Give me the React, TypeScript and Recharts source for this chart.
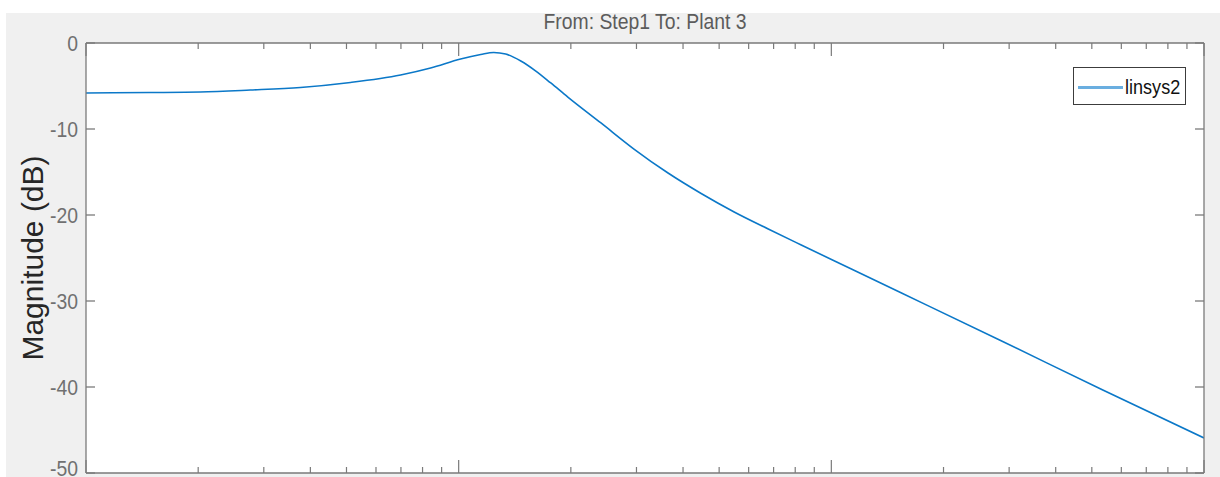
import React from "react";
import { LineChart, Line, XAxis, YAxis, CartesianGrid, Legend } from "recharts";

// bode magnitude (rad/s, dB)
const freqs = [1, 1.486, 2.025, 2.759, 3.761, 5.125, 6.985, 8.407, 10.12, 11.46, 12.42, 13.37, 14.68, 16.11, 17.67, 19.63, 24.09, 29.54, 36.46, 44.74, 54.86, 67.72, 83.04, 113.2, 154.3, 286.4, 531.7, 1000];
const magnitudes = [-5.81, -5.76, -5.7, -5.47, -5.17, -4.59, -3.72, -2.91, -1.86, -1.34, -1.1, -1.28, -2.09, -3.26, -4.65, -6.28, -9.3, -12.33, -15.12, -17.5, -19.65, -21.63, -23.49, -26.28, -29.07, -34.65, -40.29, -45.93];

const majorTicks = [1, 10, 100, 1000];
const freqTicks = [1, 2, 3, 4, 5, 6, 7, 8, 9, 10, 20, 30, 40, 50, 60, 70, 80, 90, 100, 200, 300, 400, 500, 600, 700, 800, 900, 1000];
const magTicks = [0, -10, -20, -30, -40, -50];

const seriesName = "linsys2";
const title = "From: Step1  To: Plant 3";
const yTitle = "Magnitude (dB)";

const chartData = freqs.map((f, i) => ({ freq: f, mag: magnitudes[i] }));

const AXIS = "#7a7a7a";
const FONT = "'Liberation Sans', Arial, sans-serif";
const PLOT_TOP = 43;
const PLOT_BOTTOM = 473;

// inward log ticks, long on decades
function FreqTick(props: any) {
  const { x, payload, dir, edge } = props;
  const len = majorTicks.includes(payload.value) ? 13 : 6;
  return <line x1={x} x2={x} y1={edge} y2={edge + dir * len} stroke={AXIS} strokeWidth={1.2} />;
}

function MagTick(props: any) {
  const { x, y, payload } = props;
  return (
    <text
      x={x}
      y={y}
      textAnchor="end"
      dominantBaseline="central"
      fontSize={22}
      fontFamily={FONT}
      fill="#707070"
      transform={`translate(${x},${y}) scale(0.88,1) translate(${-x},${-y})`}
    >
      {payload.value}
    </text>
  );
}

function LegendBox() {
  return (
    <div style={{ width: 113, height: 38, boxSizing: "border-box", border: "1.5px solid #3c3c3c", background: "#fff", position: "relative" }}>
      <div style={{ position: "absolute", left: 4, top: 18, width: 45, height: 3, background: "#6aaee0" }} />
      <div style={{ position: "absolute", left: 51, top: 8, fontSize: 21, lineHeight: "21px", fontFamily: FONT, color: "#111", transform: "scaleX(0.86)", transformOrigin: "left center" }}>
        {seriesName}
      </div>
    </div>
  );
}

const blank = () => "";

export default function App() {
  return (
    <div style={{ position: "absolute", left: 0, top: 0, width: 1220, height: 477, background: "#fff", overflow: "hidden" }}>
      <div style={{ position: "absolute", left: 6, top: 13, width: 1214, height: 464, background: "#f0f0f0" }} />
      <div
        style={{
          position: "absolute", left: 645, top: 11, fontSize: 22, lineHeight: "22px", fontFamily: FONT,
          color: "#5c5c5c", whiteSpace: "nowrap", transform: "translateX(-50%) scaleX(0.88)",
        }}
      >
        {title}
      </div>
      <div style={{ position: "absolute", left: 0, top: 0, width: 1220, height: 13, background: "#fff" }} />
      <div
        style={{
          position: "absolute", left: 33, top: 258, fontSize: 30, lineHeight: "30px", fontFamily: FONT,
          color: "#262626", whiteSpace: "nowrap", transform: "translate(-50%,-50%) rotate(-90deg)",
        }}
      >
        {yTitle}
      </div>
      <div style={{ position: "absolute", left: 0, top: 0 }}>
        <LineChart width={1220} height={477} data={chartData} margin={{ top: PLOT_TOP, right: 16, bottom: 477 - PLOT_BOTTOM, left: 85 }}>
          <CartesianGrid horizontal={false} vertical={false} fill="#fff" />
          <XAxis xAxisId="b" dataKey="freq" type="number" scale="log" domain={[1, 1000]} allowDataOverflow
            orientation="bottom" mirror ticks={freqTicks} interval={0} tickSize={0} tickMargin={0} tickLine={false}
            tick={<FreqTick dir={-1} edge={PLOT_BOTTOM} />} stroke={AXIS} strokeWidth={1.3} />
          <XAxis xAxisId="t" dataKey="freq" type="number" scale="log" domain={[1, 1000]} allowDataOverflow
            orientation="top" mirror ticks={freqTicks} interval={0} tickSize={0} tickMargin={0} tickLine={false}
            tick={<FreqTick dir={1} edge={PLOT_TOP} />} stroke={AXIS} strokeWidth={1.3} />
          <YAxis yAxisId="lbl" type="number" domain={[-50, 0]} allowDataOverflow ticks={magTicks}
            width={1} tickLine={false} axisLine={false} tickSize={0} tickMargin={8} tick={<MagTick />} />
          <YAxis yAxisId="l" type="number" domain={[-50, 0]} allowDataOverflow ticks={magTicks}
            orientation="left" mirror tickSize={9} tickFormatter={blank} stroke={AXIS} strokeWidth={1.3} />
          <YAxis yAxisId="r" type="number" domain={[-50, 0]} allowDataOverflow ticks={magTicks}
            orientation="right" mirror tickSize={9} tickFormatter={blank} stroke={AXIS} strokeWidth={1.3} />
          <Legend
            layout="horizontal"
            verticalAlign="middle"
            align="center"
            content={() => <LegendBox />}
            wrapperStyle={{ position: "absolute", left: 1073, top: 67, width: 113, height: 38 }}
          />
          <Line
            xAxisId="b"
            yAxisId="l"
            dataKey="mag"
            name={seriesName}
            type="monotone"
            stroke="#0b78c8"
            strokeWidth={1.6}
            dot={false}
            isAnimationActive={false}
          />
        </LineChart>
      </div>
    </div>
  );
}
